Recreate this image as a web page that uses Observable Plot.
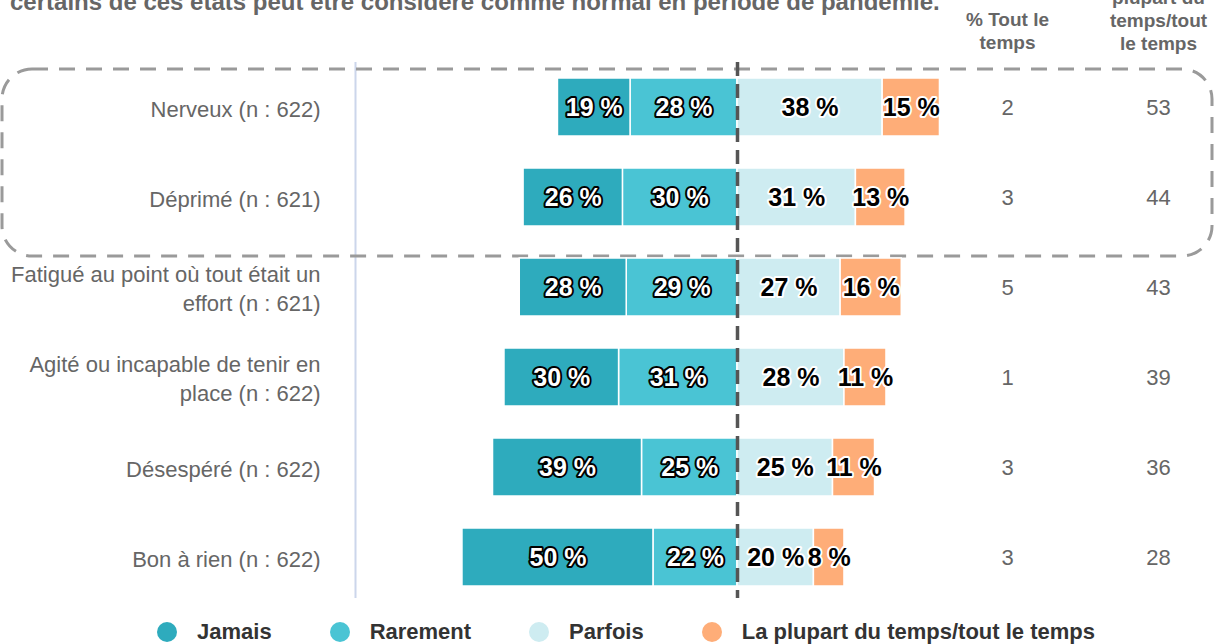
<!DOCTYPE html>
<html>
<head>
<meta charset="utf-8">
<script src="https://cdn.jsdelivr.net/npm/d3@7"></script>
<script src="https://cdn.jsdelivr.net/npm/@observablehq/plot@0.6"></script>
<style>
  html, body { margin: 0; padding: 0; background: #fff; }
  #wrap { position: relative; width: 1215px; height: 644px; overflow: hidden; font-family: "Liberation Sans", Arial, sans-serif; }
  #title { position: absolute; left: 10px; top: -12px; font-size: 24px; line-height: 28px; font-weight: bold; color: #666; white-space: nowrap; }
  #chart svg { display: block; }
  #legend { height: 40px; display: flex; align-items: center; padding-left: 157px; font-size: 22px; font-weight: bold; color: #333; }
  .item { display: flex; align-items: center; margin-right: 58px; }
  .dot { width: 20px; height: 20px; border-radius: 50%; margin-right: 20px; }
</style>
</head>
<body>
<div id="wrap">
  <div id="chart"></div>
  <div id="legend"></div>
  <div id="title"></div>
</div>
<script>
const titleText = "certains de ces états peut être considéré comme normal en période de pandémie.";
const categories = [
  "Nerveux (n : 622)",
  "Déprimé (n : 621)",
  "Fatigué au point où tout était un\neffort (n : 621)",
  "Agité ou incapable de tenir en\nplace (n : 622)",
  "Désespéré (n : 622)",
  "Bon à rien (n : 622)"
];
const seriesNames = ["Jamais", "Rarement", "Parfois", "La plupart du temps/tout le temps"];
const seriesColors = ["#2eabbd", "#4ac4d4", "#ceecf1", "#fead78"];
const jamais   = [19, 26, 28, 30, 39, 50];
const rarement = [28, 30, 29, 31, 25, 22];
const parfois  = [38, 31, 27, 28, 25, 20];
const plupart  = [15, 13, 16, 11, 11, 8];
const toutLeTemps = [2, 3, 5, 1, 3, 3];
const plupartTout = [53, 44, 43, 39, 36, 28];
const header1 = "% Tout le\ntemps";
const header2 = "% Parfois/la\nplupart du\ntemps/tout\nle temps";
const highlighted = [categories[0], categories[1]];
const xDomain = [-100, 100];

document.getElementById("title").textContent = titleText;

// diverging stack (derived from the data arrays)
const segments = [];
categories.forEach((cat, i) => {
  const r = rarement[i], j = jamais[i], p = parfois[i], q = plupart[i];
  segments.push({cat, series: seriesNames[1], value: r, x1: -r, x2: 0, dark: true});
  segments.push({cat, series: seriesNames[0], value: j, x1: -(r + j), x2: -r, dark: true});
  segments.push({cat, series: seriesNames[2], value: p, x1: 0, x2: p, dark: false});
  segments.push({cat, series: seriesNames[3], value: q, x1: p, x2: p + q, dark: false});
});

function highlightBox(index, scales, values, dims) {
  const y = scales.y;
  const bw = y.bandwidth ? y.bandwidth() : 58;
  const top = y(highlighted[0]) - 9;
  const bottom = y(highlighted[highlighted.length - 1]) + bw + 30;
  return d3.create("svg:rect")
    .attr("x", 2).attr("y", top)
    .attr("width", dims.width - 5).attr("height", bottom - top)
    .attr("rx", 30).attr("ry", 30)
    .attr("fill", "none").attr("stroke", "#9a9a9a")
    .attr("stroke-width", 3).attr("stroke-dasharray", "16,11")
    .node();
}

const labelFont = {fontSize: 25, fontWeight: "bold", strokeWidth: 4, paintOrder: "stroke", strokeLinejoin: "round"};
const colText = {fontSize: 22, fill: "#666", textAnchor: "middle"};
const headText = {fontSize: 19, fontWeight: "bold", fill: "#666", lineHeight: 1.21, textAnchor: "middle", lineAnchor: "bottom"};

const chart = Plot.plot({
  width: 1215,
  height: 612,
  marginLeft: 355,
  marginRight: 96,
  marginTop: 61,
  marginBottom: 10,
  style: {fontFamily: "'Liberation Sans', Arial, sans-serif", background: "#fff", overflow: "visible"},
  x: {domain: xDomain, axis: null},
  y: {domain: categories, paddingInner: 0.357, paddingOuter: 0.1785, axis: null},
  color: {domain: seriesNames, range: seriesColors},
  marks: [
    Plot.ruleX([xDomain[0]], {stroke: "#ccd6eb", strokeWidth: 2, insetTop: 1, insetBottom: 4}),
    highlightBox,
    Plot.text(categories, {y: d => d, text: d => d, frameAnchor: "left", dx: -35, textAnchor: "end",
      fontSize: 22, fill: "#666", lineHeight: 1.3}),
    Plot.barX(segments, {x1: "x1", x2: "x2", y: "cat", fill: "series", stroke: "white", strokeWidth: 1.5}),
    Plot.ruleX([0], {stroke: "#555", strokeWidth: 3.5, strokeDasharray: "14,8", insetTop: 1, insetBottom: 4}),
    Plot.text(segments.filter(d => d.dark), {x: d => (d.x1 + d.x2) / 2, y: "cat", text: d => `${d.value} %`,
      fill: "white", stroke: "black", ...labelFont}),
    Plot.text(segments.filter(d => !d.dark), {x: d => (d.x1 + d.x2) / 2, y: "cat", text: d => `${d.value} %`,
      fill: "black", stroke: "white", ...labelFont}),
    Plot.text(categories, {y: d => d, text: (d, i) => String(toutLeTemps[i]), frameAnchor: "right", dx: -112, ...colText}),
    Plot.text(categories, {y: d => d, text: (d, i) => String(plupartTout[i]), frameAnchor: "right", dx: 39, ...colText}),
    Plot.text([header1], {text: d => d, frameAnchor: "top-right", dx: -112, dy: -13, ...headText}),
    Plot.text([header2], {text: d => d, frameAnchor: "top-right", dx: 39, dy: -12, ...headText})
  ]
});
document.getElementById("chart").appendChild(chart);

const legend = document.getElementById("legend");
seriesNames.forEach((name, i) => {
  const item = document.createElement("div");
  item.className = "item";
  const dot = document.createElement("span");
  dot.className = "dot";
  dot.style.background = seriesColors[i];
  const lab = document.createElement("span");
  lab.textContent = name;
  item.appendChild(dot);
  item.appendChild(lab);
  legend.appendChild(item);
});
</script>
</body>
</html>
